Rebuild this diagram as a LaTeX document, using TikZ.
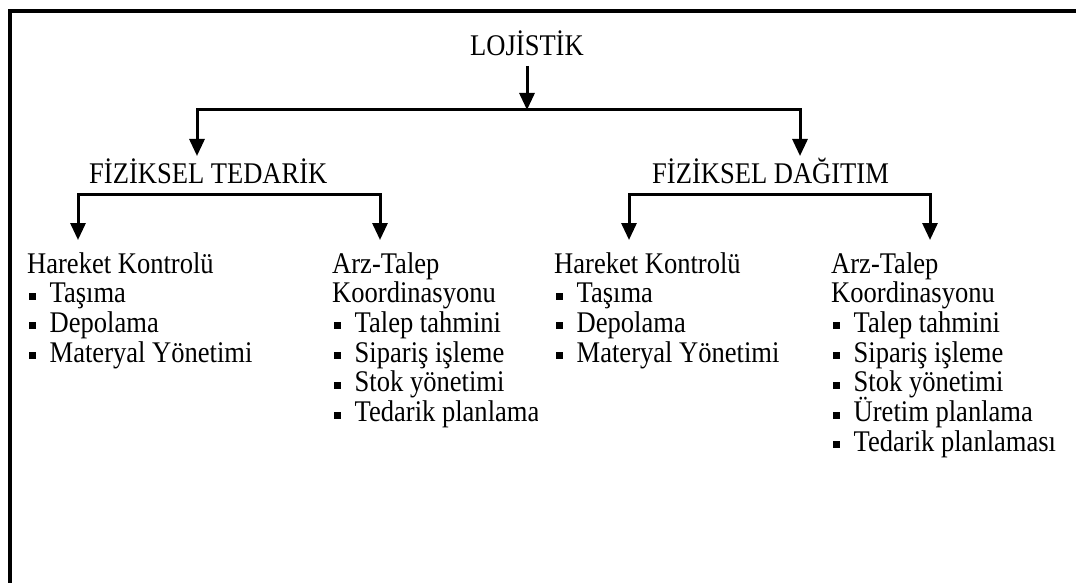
\documentclass[tikz,border=0pt]{standalone}
\usepackage{fontspec}
\setmainfont{Liberation Serif}
% a narrow cut of the serif face: full height, slimmer letters
\newfontfamily\tallserif[FakeStretch=0.885]{Liberation Serif}
\usetikzlibrary{arrows.meta,calc}
% square list marker followed by the item text (smashed so rows stay evenly spaced)
\newcommand\itm[1]{\hspace*{2pt}\rule[3pt]{7pt}{7pt}\hspace{13.5pt}\smash{#1}}
\begin{document}
\begin{tikzpicture}[x=1pt,y=-1pt,
  tip/.tip={Triangle[width=15pt,length=17pt]},
  link/.style={line width=3pt,line join=miter},
  arr/.style={link,-tip},
  bracket/.style={link,tip-tip},
  lbl/.style={inner sep=0pt,anchor=base west,font=\tallserif\fontsize{30pt}{29.7pt}\selectfont},
]
\useasboundingbox (0,0) rectangle (1076,583);
% frame
\draw[line width=4pt,line join=miter] (9.5,583) -- (9.5,11.5) -- (1076,11.5);

% headings
\node[lbl] (loj) at (470,56) {LOJİSTİK};
\node[lbl] (ted) at (89,183) {FİZİKSEL TEDARİK};
\node[lbl] (dag) at (652,183) {FİZİKSEL DAĞITIM};

% lists
\node[lbl] (c1) at (27,273) {\begin{tabular}[t]{@{}l@{}}
  Hareket Kontrolü\\ \itm{Taşıma}\\ \itm{Depolama}\\ \itm{Materyal Yönetimi}\end{tabular}};
\begin{scope}
  \clip (0,0) rectangle (537,583);
  \node[lbl] (c2) at (332,273) {\begin{tabular}[t]{@{}l@{}}
    Arz-Talep\\ Koordinasyonu\\ \itm{Talep tahmini}\\ \itm{Sipariş işleme}\\
    \itm{Stok yönetimi}\\ \itm{Tedarik planlaması}\end{tabular}};
\end{scope}
\node[lbl] (c3) at (554,273) {\begin{tabular}[t]{@{}l@{}}
  Hareket Kontrolü\\ \itm{Taşıma}\\ \itm{Depolama}\\ \itm{Materyal Yönetimi}\end{tabular}};
\node[lbl] (c4) at (831,273) {\begin{tabular}[t]{@{}l@{}}
  Arz-Talep\\ Koordinasyonu\\ \itm{Talep tahmini}\\ \itm{Sipariş işleme}\\
  \itm{Stok yönetimi}\\ \itm{Üretim planlama}\\ \itm{Tedarik planlaması}\end{tabular}};

% junction points
\coordinate (j0) at (527,110);
\coordinate (b0L) at (197,110);
\coordinate (b0R) at (800,110);
\coordinate (b1L) at (78,194);
\coordinate (b1R) at (380,194);
\coordinate (b2L) at (629,194);
\coordinate (b2R) at (930,194);

% arrow tips just above the texts
\coordinate (tTed) at ($(b0L |- ted.base)+(0,-27)$);
\coordinate (tDag) at ($(b0R |- dag.base)+(0,-27)$);
\coordinate (t1) at ($(b1L |- c1.base)+(0,-33)$);
\coordinate (t2) at ($(b1R |- c2.base)+(0,-33)$);
\coordinate (t3) at ($(b2L |- c3.base)+(0,-33)$);
\coordinate (t4) at ($(b2R |- c4.base)+(0,-33)$);

\draw[arr] ($(j0 |- loj.base)+(0,10)$) -- (j0);
\draw[bracket] (tTed) -- (b0L) -- (b0R) -- (tDag);
\draw[bracket] (t1) -- (b1L) -- (b1R) -- (t2);
\draw[bracket] (t3) -- (b2L) -- (b2R) -- (t4);
\end{tikzpicture}
\end{document}
